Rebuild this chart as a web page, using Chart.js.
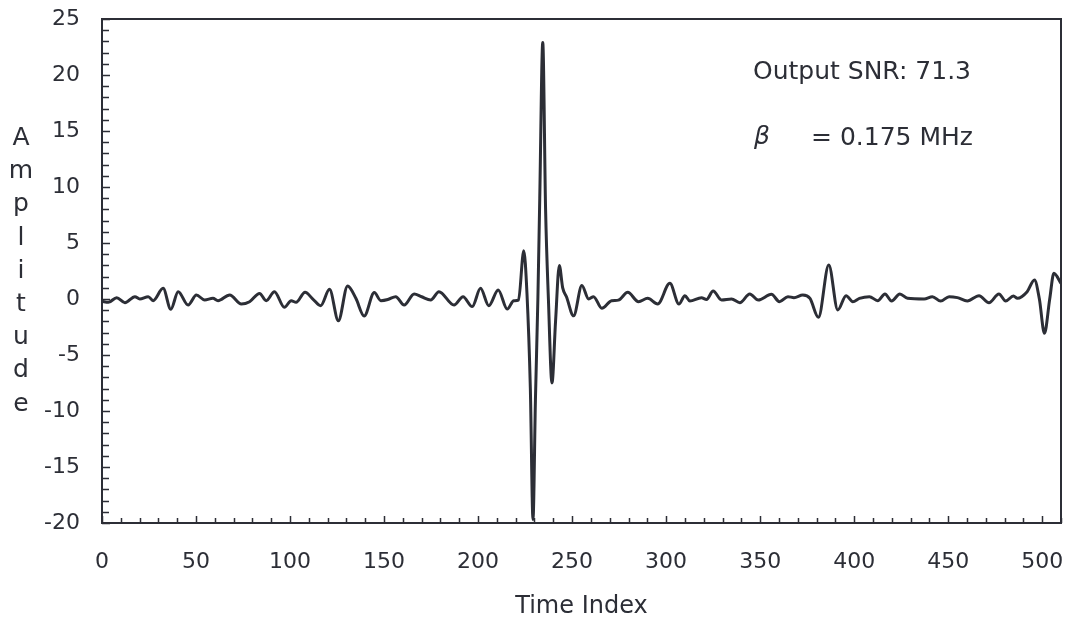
<!DOCTYPE html>
<html>
<head>
<meta charset="utf-8">
<script src="https://cdn.jsdelivr.net/npm/chart.js@4.4.0/dist/chart.umd.min.js"></script>
<style>
    html, body { margin: 0; padding: 0; background: #fff; }
    #wrap { width: 1073px; height: 627px; }
</style>
</head>
<body>
<div id="wrap"><canvas id="amplitude-chart"></canvas></div>
<script>
// values (peaks, dips and a few wall points)
const timeIndex = [
    0, 3.4, 7.8, 12.2, 17.5, 20.1, 24.6, 27.2, 32.5, 36.6, 40.5, 45.8, 50.2, 54.6, 59, 61.7,
    67.9, 74.1, 78.5, 83.8, 87.3, 91.7, 97, 100.6, 103.2, 108, 112, 116.3, 121, 125.7, 130.6,
    135, 139.4, 144.8, 148.3, 152, 156.2, 160.7, 166, 170, 174.8, 179.2, 187.2, 192, 196.9,
    201.3, 205.7, 210.7, 215.5, 219, 221.5, 224.3, 226, 227.8, 229.2, 230.5, 231.8, 232.8,
    234.4, 235.9, 237.4, 239.3, 241.2, 243.2, 245, 247, 250.8, 255.2, 258.8, 261.4, 265.8,
    271, 274.6, 279.6, 285.3, 290.2, 295.5, 302, 306.8, 310, 312.6, 318.8, 321.5, 325, 329.5,
    334.8, 339.2, 344.5, 349, 356, 360.3, 364.8, 368, 372.7, 376.5, 381, 386.5, 391.3, 395.7,
    399.3, 402.8, 408.1, 412.5, 416.4, 419.9, 424.3, 428.4, 437.2, 441.6, 446, 450.5, 454.9,
    460.2, 466.4, 471.7, 477, 480.6, 484.7, 486.8, 492, 495.9, 498.5, 501.2, 504, 506.2, 510
];
const amplitude = [
    -0.2, -0.3, 0.12, -0.33, 0.21, 0, 0.21, -0.15, 0.95, -0.92, 0.65, -0.54, 0.36, -0.09, 0.06, -0.15,
    0.36, -0.45, -0.24, 0.5, -0.15, 0.65, -0.74, -0.15, -0.3, 0.6, 0.02, -0.6, 0.86, -1.94, 1.16,
    0.06, -1.52, 0.57, -0.15, -0.05, 0.21, -0.54, 0.45, 0.2, -0.09, 0.65, -0.54, 0.2, -0.68,
    0.95, -0.6, 0.8, -0.9, -0.15, -0.1, 4.3, 0.5, -8, -19.7, -9, 0, 9,
    22.9, 8, 0, -7.5, -2, 3.0, 1, 0.2, -1.5, 1.2, 0, 0.21, -0.83,
    -0.15, -0.1, 0.6, -0.24, 0.06, -0.45, 1.4, -0.45, 0.3, -0.18, 0.12, -0.05, 0.71, -0.09,
    0, -0.33, 0.45, -0.09, 0.42, -0.24, 0.21, 0.12, 0.36, 0.06, -1.64, 3.04, -0.98, 0.3,
    -0.24, 0.06, 0.21, -0.15, 0.45, -0.18, 0.45, 0.06, 0, 0.21, -0.18, 0.21, 0.12,
    -0.18, 0.3, -0.33, 0.45, -0.18, 0.27, 0.06, 0.65, 1.7, 0, -3.06, 0, 2.29, 1.4
];
const xTicks = [0, 50, 100, 150, 200, 250, 300, 350, 400, 450, 500];
const yTicks = [-20, -15, -10, -5, 0, 5, 10, 15, 20, 25];
const yTitle = "Amplitude";
const noteLines = ["Output SNR: 71.3", "= 0.175 MHz"];

const ink = "#2c2e36";
const fontFamily = "'DejaVu Sans', sans-serif";

// box, inward tick marks, stacked y title and the two notes
const decorations = {
    id: "decorations",
    afterDraw(chart) {
        const { ctx, chartArea: a, scales } = chart;
        const x = scales.x, y = scales.y;
        ctx.save();
        ctx.strokeStyle = ink;
        ctx.lineWidth = 2;
        ctx.strokeRect(a.left, a.top, a.right - a.left, a.bottom - a.top);

        ctx.lineWidth = 1.5;
        ctx.beginPath();
        for (let v = 0; v <= 510; v += 10) {
            const px = Math.round(x.getPixelForValue(v)) + 0.5;
            const len = v % 50 === 0 ? 7 : 5;
            ctx.moveTo(px, a.bottom);
            ctx.lineTo(px, a.bottom - len);
        }
        for (let v = -20; v <= 25; v += 1) {
            const py = Math.round(y.getPixelForValue(v)) + 0.5;
            const len = v % 5 === 0 ? 8 : 7;
            ctx.moveTo(a.left, py);
            ctx.lineTo(a.left + len, py);
        }
        ctx.stroke();

        ctx.fillStyle = ink;
        ctx.font = "25px " + fontFamily;
        ctx.textAlign = "center";
        ctx.textBaseline = "alphabetic";
        yTitle.split("").forEach((ch, i) => {
            ctx.fillText(ch, 21, 145 + i * 33.2);
        });

        ctx.textAlign = "left";
        ctx.textBaseline = "middle";
        ctx.fillText(noteLines[0], 753, 72);
        ctx.font = "italic 25px " + fontFamily;
        ctx.fillText("\u03b2", 754, 137);
        ctx.font = "25px " + fontFamily;
        ctx.fillText(noteLines[1], 811, 138);
        ctx.restore();
    },
};

const ctx = document.querySelector("#amplitude-chart").getContext("2d");

const amplitudeChart = new Chart(ctx, {
    type: "line",
    data: {
        datasets: [
            {
                label: "Amplitude",
                data: timeIndex.map((t, i) => ({ x: t, y: amplitude[i] })),
                borderColor: ink,
                borderWidth: 3,
                pointRadius: 0,
                fill: false,
                cubicInterpolationMode: "monotone",
            },
        ],
    },
    options: {
        responsive: true,
        maintainAspectRatio: false,
        animation: false,
        layout: {
            padding: { top: 19, right: 12, left: 0, bottom: 0 },
        },
        scales: {
            x: {
                type: "linear",
                min: 0,
                max: 510,
                grid: { display: false, drawTicks: false },
                border: { display: false },
                afterBuildTicks: (s) => {
                    s.ticks = xTicks.map((v) => ({ value: v }));
                },
                afterFit: (s) => {
                    s.height = 104;
                    s.paddingLeft = 0;
                    s.paddingRight = 0;
                },
                ticks: {
                    color: ink,
                    padding: 26,
                    maxRotation: 0,
                    autoSkip: false,
                    font: { family: fontFamily, size: 22 },
                },
                title: {
                    display: true,
                    text: "Time Index",
                    color: ink,
                    padding: { top: 0, bottom: 6 },
                    font: { family: fontFamily, size: 24 },
                },
            },
            y: {
                type: "linear",
                min: -20,
                max: 25,
                grid: { display: false, drawTicks: false },
                border: { display: false },
                afterBuildTicks: (s) => {
                    s.ticks = yTicks.map((v) => ({ value: v }));
                },
                afterFit: (s) => {
                    s.width = 102;
                    s.paddingTop = 0;
                    s.paddingBottom = 0;
                },
                ticks: {
                    color: ink,
                    padding: 22,
                    autoSkip: false,
                    font: { family: fontFamily, size: 22 },
                },
            },
        },
        plugins: {
            legend: { display: false },
            tooltip: { enabled: false },
        },
    },
    plugins: [decorations],
});
</script>
</body>
</html>
